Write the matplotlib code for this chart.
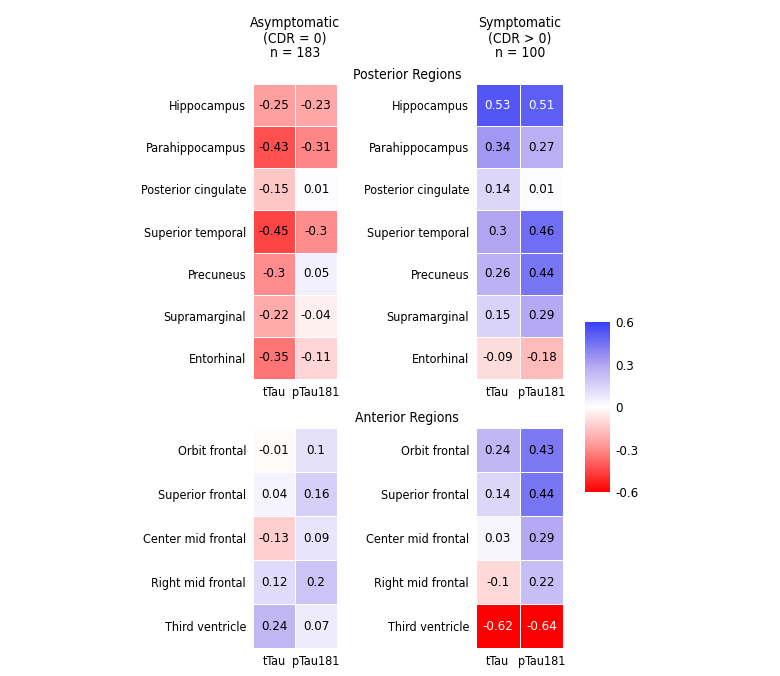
import numpy as np
import matplotlib
matplotlib.use('Agg')
import matplotlib.pyplot as plt
from matplotlib import font_manager
from matplotlib.colors import LinearSegmentedColormap

# procura uma fonte estreita (condensed / narrow); senão usa Roboto menor
fam, stretch, FS = 'Roboto', 'normal', 8.0
for f in font_manager.fontManager.ttflist:
    nome = f.name.lower()
    if f.style == 'normal' and f.weight in (400, 'normal', 'regular') and \
            ('narrow' in nome or 'condensed' in nome or f.stretch in ('condensed', 'semi-condensed')):
        if 'sans' in nome or 'roboto' in nome:
            fam, stretch, FS = f.name, f.stretch, 9.0
            break
plt.rcParams['font.family'] = [fam, 'DejaVu Sans']
plt.rcParams['font.stretch'] = stretch

# --- dados ---
cols = ['tTau', 'pTau181']
post_regions = ['Hippocampus', 'Parahippocampus', 'Posterior cingulate', 'Superior temporal',
                'Precuneus', 'Supramarginal', 'Entorhinal']
ant_regions = ['Orbit frontal', 'Superior frontal', 'Center mid frontal', 'Right mid frontal',
               'Third ventricle']

post_asym_ttau = [-0.25, -0.43, -0.15, -0.45, -0.3, -0.22, -0.35]
post_asym_ptau = [-0.23, -0.31, 0.01, -0.3, 0.05, -0.04, -0.11]
post_sym_ttau = [0.53, 0.34, 0.14, 0.3, 0.26, 0.15, -0.09]
post_sym_ptau = [0.51, 0.27, 0.01, 0.46, 0.44, 0.29, -0.18]

ant_asym_ttau = [-0.01, 0.04, -0.13, 0.12, 0.24]
ant_asym_ptau = [0.1, 0.16, 0.09, 0.2, 0.07]
ant_sym_ttau = [0.24, 0.14, 0.03, -0.1, -0.62]
ant_sym_ptau = [0.43, 0.44, 0.29, 0.22, -0.64]

cbar_ticks = [0.6, 0.3, 0, -0.3, -0.6]

cmap = LinearSegmentedColormap.from_list('rwb', [
    (0.0, (1.0, 0.0, 0.0)),
    (0.25, (1.0, 0.55, 0.55)),
    (0.5, (1.0, 1.0, 1.0)),
    (0.75, (0.70, 0.65, 0.95)),
    (1.0, (0.22, 0.25, 0.96)),
])
vmin, vmax = -0.6, 0.6

W, H = 780, 676
fig = plt.figure(figsize=(W / 100, H / 100), dpi=100)


def eixo(x0, y0, x1, y1):
    return fig.add_axes([x0 / W, 1 - y1 / H, (x1 - x0) / W, (y1 - y0) / H])


def heatmap(ax, regioes, v1, v2):
    dados = np.column_stack([v1, v2])
    im = ax.pcolormesh(dados, cmap=cmap, vmin=vmin, vmax=vmax,
                       edgecolors='white', linewidth=0.6)
    ax.set_ylim(len(regioes), 0)
    ax.set_xlim(0, 2)
    for i in range(len(regioes)):
        for j in range(2):
            v = dados[i, j]
            cor = 'white' if abs(v) >= 0.5 else 'black'
            ax.text(j + 0.5, i + 0.5, f'{v:g}', ha='center', va='center',
                    fontsize=FS + 0.5, color=cor)
    ax.set_yticks(np.arange(len(regioes)) + 0.5)
    ax.set_yticklabels(regioes, fontsize=FS)
    ax.set_xticks([0.5, 1.5])
    ax.set_xticklabels(cols, fontsize=FS)
    ax.tick_params(length=0, pad=5)
    for s in ax.spines.values():
        s.set_visible(False)
    return im


ax1 = eixo(253, 84, 337, 379)
heatmap(ax1, post_regions, post_asym_ttau, post_asym_ptau)
ax2 = eixo(476, 84, 563, 379)
heatmap(ax2, post_regions, post_sym_ttau, post_sym_ptau)
ax3 = eixo(253, 428, 337, 648)
heatmap(ax3, ant_regions, ant_asym_ttau, ant_asym_ptau)
ax4 = eixo(476, 428, 563, 648)
im = heatmap(ax4, ant_regions, ant_sym_ttau, ant_sym_ptau)

# titulos
fig.text(295 / W, 1 - 38 / H, 'Asymptomatic\n(CDR = 0)\nn = 183', ha='center', va='center',
         fontsize=FS + 1, linespacing=1.05)
fig.text(520 / W, 1 - 38 / H, 'Symptomatic\n(CDR > 0)\nn = 100', ha='center', va='center',
         fontsize=FS + 1, linespacing=1.05)
fig.text(407 / W, 1 - 75 / H, 'Posterior Regions', ha='center', va='center', fontsize=FS + 1)
fig.text(407 / W, 1 - 418 / H, 'Anterior Regions', ha='center', va='center', fontsize=FS + 1)

# barra de cores
cax = eixo(585, 322, 610, 492)
cb = fig.colorbar(im, cax=cax, ticks=cbar_ticks)
cb.ax.set_yticklabels([f'{t:g}' for t in cbar_ticks], fontsize=FS + 0.5)
cb.ax.tick_params(length=0, pad=4)
cb.outline.set_visible(False)

fig.savefig('out.png', dpi=100)
